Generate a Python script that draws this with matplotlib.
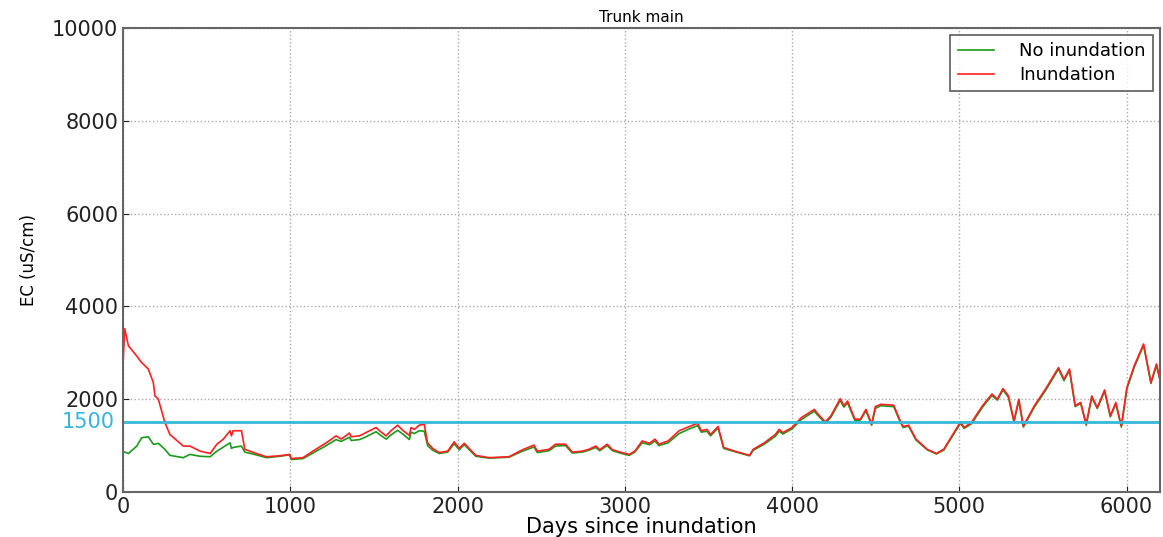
import matplotlib
matplotlib.use('Agg')
import matplotlib.pyplot as plt

# Datos (dias desde la inundacion, EC en uS/cm)
dias = [0, 10, 32, 82, 111, 151, 181, 191, 211, 250, 280, 360, 400, 461, 521,
        561, 600, 640, 648, 658, 708, 728, 797, 857, 937, 996, 1006, 1076, 1135,
        1215, 1274, 1304, 1354, 1364, 1414, 1453, 1513, 1533, 1573, 1602, 1642,
        1672, 1712, 1722, 1742, 1771, 1801, 1821, 1851, 1891, 1941, 1980, 2010,
        2040, 2109, 2189, 2308, 2388, 2457, 2477, 2547, 2586, 2646, 2686, 2746,
        2785, 2827, 2850, 2894, 2927, 2982, 3027, 3060, 3104, 3148, 3181, 3204,
        3259, 3325, 3392, 3436, 3458, 3491, 3513, 3558, 3591, 3657, 3746, 3768,
        3834, 3900, 3923, 3945, 4000, 4055, 4133, 4155, 4199, 4232, 4288, 4310,
        4332, 4376, 4409, 4442, 4476, 4498, 4531, 4608, 4642, 4664, 4697, 4741,
        4808, 4863, 4907, 5007, 5029, 5073, 5139, 5195, 5228, 5261, 5294, 5327,
        5356, 5383, 5449, 5516, 5593, 5626, 5659, 5693, 5726, 5759, 5792, 5825,
        5869, 5903, 5936, 5969, 6002, 6046, 6102, 6146, 6179, 6200]

con_inundacion = [2780, 3520, 3150, 2930, 2790, 2650, 2360, 2070, 2000, 1500, 1240,
                  990, 990, 880, 830, 1030, 1140, 1320, 1210, 1320, 1320, 920, 830,
                  760, 780, 810, 720, 740, 880, 1060, 1210, 1140, 1270, 1190, 1210,
                  1280, 1390, 1320, 1210, 1320, 1440, 1330, 1220, 1390, 1350, 1440,
                  1460, 1060, 940, 850, 880, 1080, 940, 1050, 790, 740, 760, 910,
                  1010, 880, 920, 1030, 1030, 860, 880, 920, 990, 910, 1030, 910,
                  850, 810, 880, 1100, 1050, 1140, 1030, 1100, 1320, 1420, 1480,
                  1320, 1350, 1240, 1410, 960, 880, 790, 920, 1060, 1240, 1350,
                  1280, 1390, 1600, 1780, 1680, 1510, 1640, 2010, 1860, 1960, 1570,
                  1570, 1780, 1460, 1840, 1890, 1870, 1570, 1410, 1440, 1140, 920,
                  830, 920, 1510, 1390, 1500, 1860, 2110, 2000, 2230, 2070, 1530,
                  2000, 1420, 1860, 2220, 2680, 2430, 2650, 1860, 1930, 1460, 2070,
                  1820, 2200, 1640, 1930, 1420, 2250, 2720, 3190, 2360, 2760, 2430]

sin_inundacion = [860, 860, 830, 990, 1170, 1190, 1030, 1030, 1050, 920, 790,
                  740, 810, 770, 760, 880, 970, 1060, 940, 960, 990, 860, 800,
                  740, 770, 800, 700, 720, 840, 1000, 1130, 1090, 1180, 1110, 1130,
                  1190, 1300, 1240, 1140, 1230, 1330, 1250, 1130, 1290, 1260, 1320,
                  1310, 1000, 900, 830, 860, 1040, 910, 1020, 770, 730, 750, 880,
                  970, 850, 890, 990, 1000, 840, 860, 900, 960, 890, 1000, 890,
                  830, 790, 860, 1060, 1020, 1100, 1000, 1060, 1260, 1370, 1430,
                  1290, 1310, 1210, 1380, 940, 870, 780, 900, 1030, 1200, 1310,
                  1250, 1360, 1560, 1740, 1650, 1480, 1610, 1970, 1830, 1920, 1540,
                  1550, 1750, 1440, 1800, 1860, 1840, 1550, 1390, 1420, 1120, 910,
                  820, 900, 1480, 1370, 1470, 1830, 2080, 1980, 2200, 2040, 1510,
                  1970, 1400, 1830, 2190, 2650, 2400, 2620, 1840, 1910, 1440, 2040,
                  1800, 2170, 1620, 1900, 1400, 2220, 2690, 3160, 2340, 2730, 2410]

umbral = 1500

# Grafico de lineas
fig = plt.figure(figsize=(11.63, 5.37), dpi=100)
ax = fig.add_axes([0.1058, 0.0838, 0.8916, 0.8641])

ax.plot(dias, sin_inundacion, color='#1a9a1a', lw=1.2, label='No inundation')
ax.plot(dias, con_inundacion, color='#ff2020', lw=1.2, label='Inundation')
ax.axhline(umbral, color='#36b8d8', lw=2)

ax.set_xlim(0, 6200)
ax.set_ylim(0, 10000)
ax.set_xticks([0, 1000, 2000, 3000, 4000, 5000, 6000])
ax.set_yticks([0, 2000, 4000, 6000, 8000, 10000])
ax.tick_params(labelsize=15, colors='#222222', direction='in', length=4)
ax.grid(True, linestyle=':', color='#aaaaaa', lw=1)
for s in ax.spines.values():
    s.set_color('#666666')
    s.set_linewidth(1.5)

ax.text(-0.008, umbral, str(umbral), color='#33b5e0', fontsize=15,
        ha='right', va='center', transform=ax.get_yaxis_transform())

ax.set_title('Trunk main', fontsize=11, pad=4)
ax.set_xlabel('Days since inundation', fontsize=15, labelpad=0)
ax.set_ylabel('EC (uS/cm)', fontsize=12, labelpad=10)

leg = ax.legend(loc='upper right', fontsize=13, fancybox=False,
                handlelength=2.0, handletextpad=1.4, borderaxespad=0.4,
                labelspacing=0.3)
leg.get_frame().set_edgecolor('#333333')
leg.get_frame().set_linewidth(1.2)

plt.savefig('out.png', dpi=100)
